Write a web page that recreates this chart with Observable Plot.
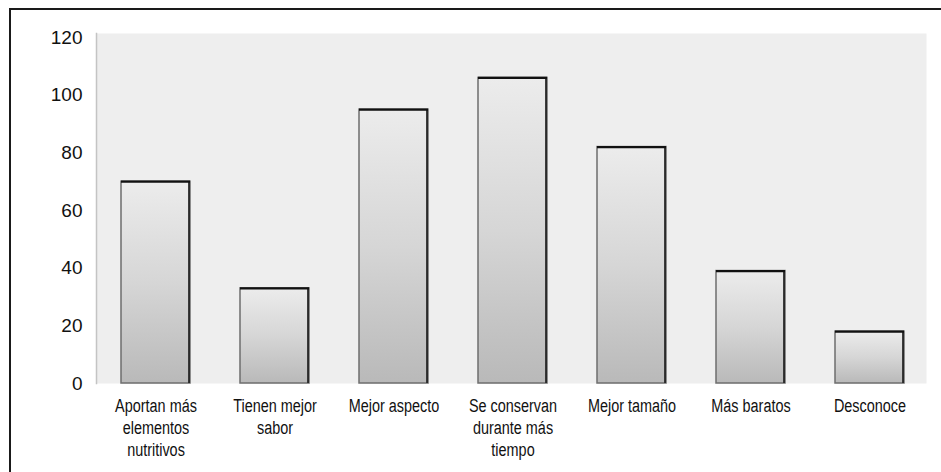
<!DOCTYPE html>
<html>
<head>
<meta charset="utf-8">
<script src="https://cdn.jsdelivr.net/npm/d3@7"></script>
<script src="https://cdn.jsdelivr.net/npm/@observablehq/plot@0.6"></script>
<style>
  html, body { margin: 0; padding: 0; background: #fff; overflow: hidden; }
  #wrap { position: relative; width: 941px; height: 472px; overflow: hidden; }
  #border { position: absolute; left: 9px; top: 8px; width: 1000px; height: 600px; border: 2px solid #1a1a1a; box-sizing: border-box; }
  #chart { position: absolute; left: 0; top: 0; }
</style>
</head>
<body>
<div id="wrap"><div id="border"></div><div id="chart"></div></div>
<script>
const categories = [
  "Aportan más\nelementos\nnutritivos",
  "Tienen mejor\nsabor",
  "Mejor aspecto",
  "Se conservan\ndurante más\ntiempo",
  "Mejor tamaño",
  "Más baratos",
  "Desconoce"
];
const values = [70, 33, 95, 106, 82, 39, 18];
const yTicks = [0, 20, 40, 60, 80, 100, 120];

const data = categories.map((c, i) => ({cat: c, value: values[i]}));

const W = 941, H = 472;
const mL = 96, mR = 11, mT = 37, mB = 89;
const xOpts = {type: "band", domain: categories, range: [mL, W - mR], paddingInner: 0.42, paddingOuter: 0.21};
let bw = 69;
try { const s = Plot.scale({x: xOpts}); if (s && s.bandwidth) bw = s.bandwidth; } catch (e) {}

const plot = Plot.plot({
  width: W,
  height: H,
  marginLeft: mL,
  marginRight: mR,
  marginTop: mT,
  marginBottom: mB,
  style: {background: "transparent", color: "#111"},
  x: {domain: categories, paddingInner: 0.42, paddingOuter: 0.21, label: null},
  y: {domain: [0, 120], label: null},
  marks: [
    Plot.frame({fill: "#eeeeee", insetTop: -4, insetRight: 4}),
    Plot.frame({anchor: "left", stroke: "#c4c4c4", strokeWidth: 1.5, insetTop: -4}),
    Plot.barY(data, {x: "cat", y: "value", fill: "url(#barGrad)", stroke: "#6e6e6e", strokeWidth: 1.5}),
    Plot.barY(data, {x: "cat", y: "value", fill: "#2a2a2a", insetLeft: bw - 2}),
    Plot.tickY(data, {x: "cat", y: "value", stroke: "#111", strokeWidth: 2.2}),
    Plot.axisY({ticks: yTicks, tickSize: 0, tickPadding: 14, fontSize: 19, fontFamily: "'Liberation Sans', Arial, sans-serif", tickFormat: d => String(d)}),
    Plot.axisX({tickSize: 0, tickPadding: 13, fontSize: 19, lineHeight: 1.15, fontFamily: "'Liberation Sans', Arial, sans-serif"})
  ]
});

const ns = "http://www.w3.org/2000/svg";
const defs = document.createElementNS(ns, "defs");
const grad = document.createElementNS(ns, "linearGradient");
grad.setAttribute("id", "barGrad");
grad.setAttribute("x1", "0"); grad.setAttribute("y1", "0");
grad.setAttribute("x2", "0"); grad.setAttribute("y2", "1");
[["0", "#ececec"], ["0.5", "#d6d6d6"], ["1", "#b9b9b9"]].forEach(([o, c]) => {
  const st = document.createElementNS(ns, "stop");
  st.setAttribute("offset", o); st.setAttribute("stop-color", c);
  grad.appendChild(st);
});
defs.appendChild(grad);
plot.insertBefore(defs, plot.firstChild);

// condense the x tick labels horizontally (narrow face look)
const sx = 0.76;
plot.querySelectorAll('g[aria-label="x-axis tick label"] text').forEach(t => {
  const tr = t.getAttribute("transform") || "";
  if (/translate/.test(tr)) {
    t.setAttribute("transform", tr + ` scale(${sx},1)`);
  } else {
    const x = +t.getAttribute("x") || 0;
    t.setAttribute("transform", `${tr} translate(${x},0) scale(${sx},1) translate(${-x},0)`);
  }
});

document.getElementById("chart").appendChild(plot);
</script>
</body>
</html>
